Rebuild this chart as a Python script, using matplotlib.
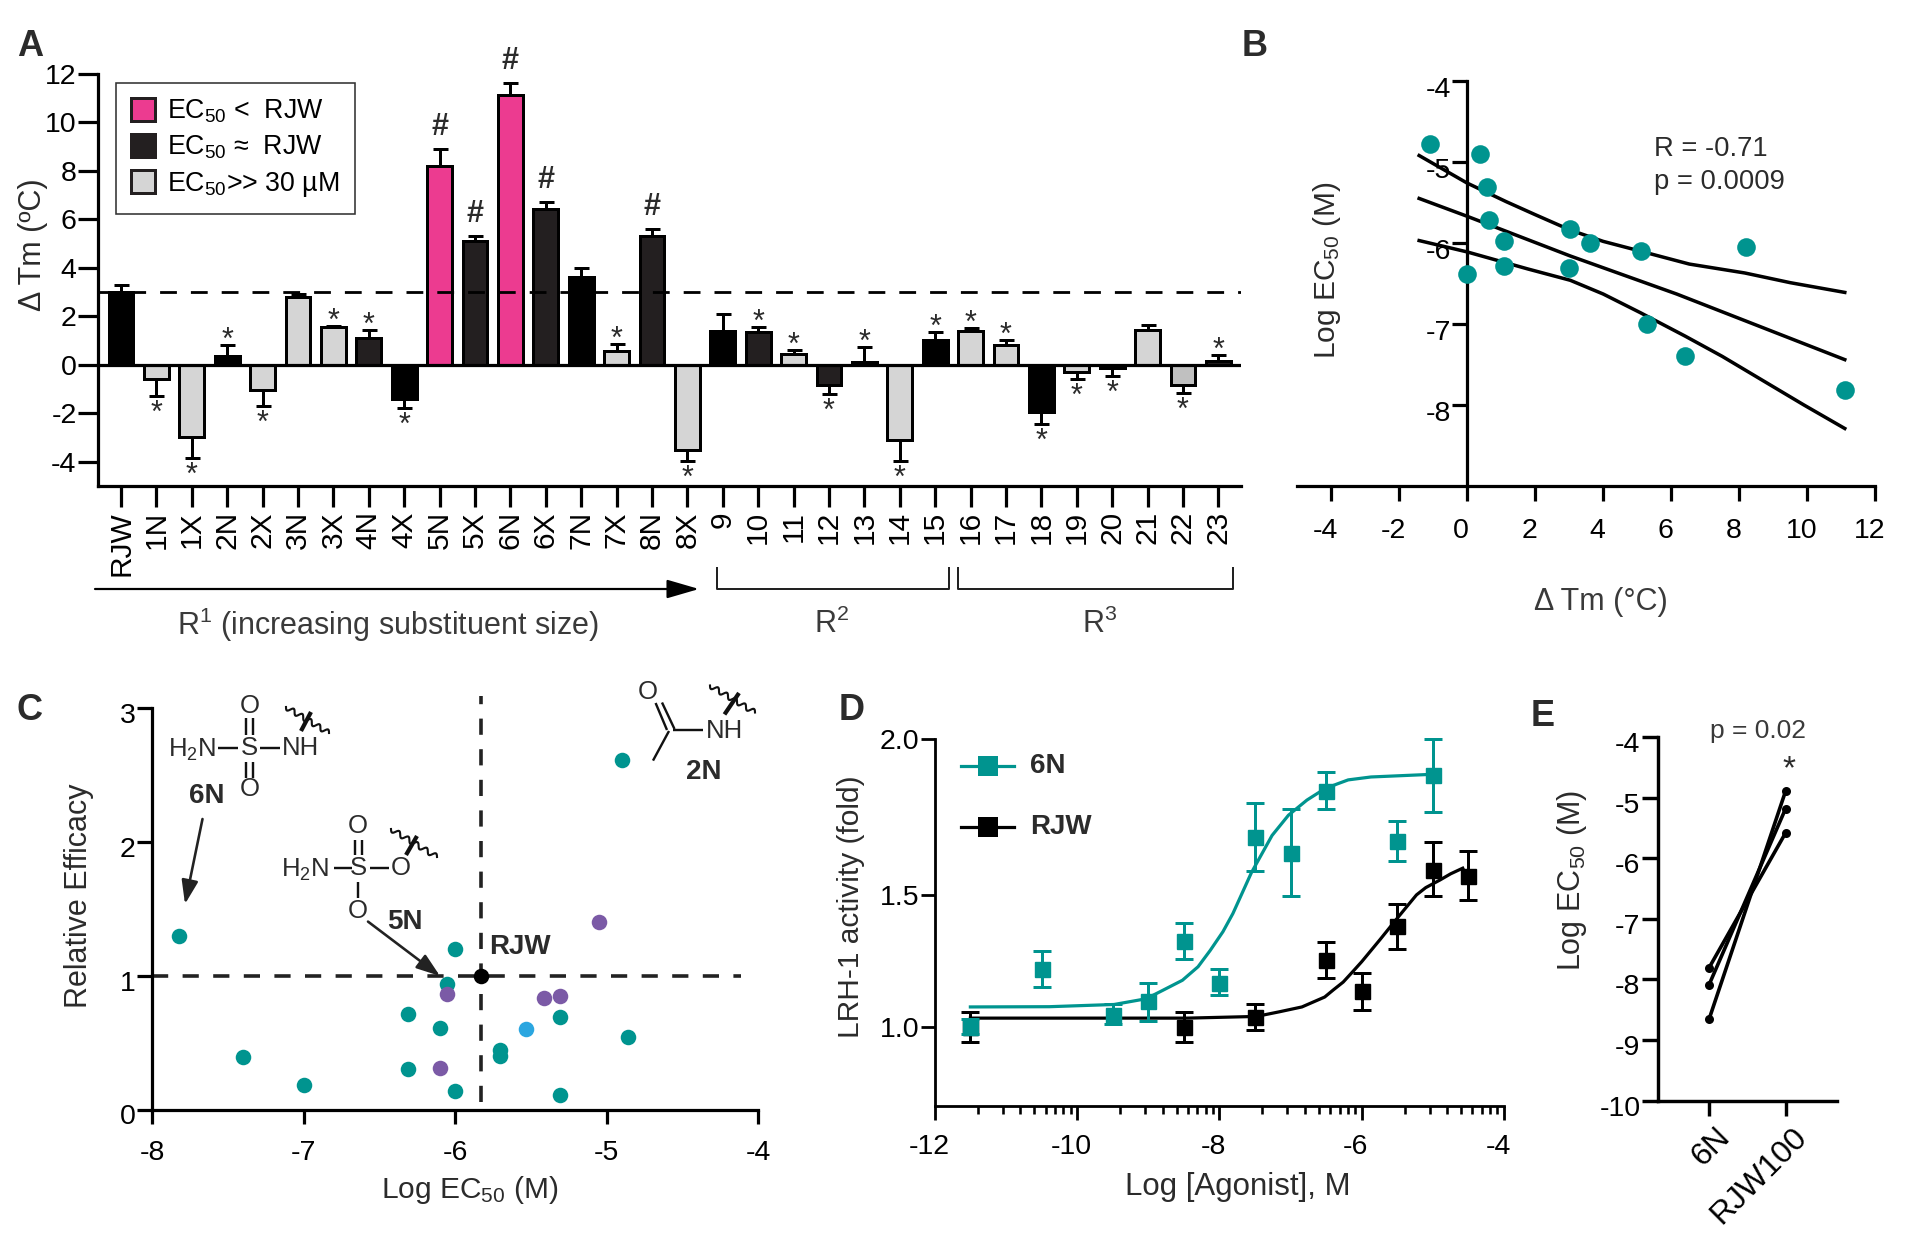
import numpy as np
import matplotlib
matplotlib.use("Agg")
import matplotlib.pyplot as plt
from matplotlib.patches import Patch
from matplotlib.ticker import NullLocator
from matplotlib.transforms import ScaledTranslation

plt.rcParams["font.family"] = ["Liberation Sans", "DejaVu Sans"]
plt.rcParams["mathtext.fontset"] = "custom"
plt.rcParams["mathtext.rm"] = "Liberation Sans"
plt.rcParams["mathtext.default"] = "regular"
plt.rcParams["axes.unicode_minus"] = False

W, H = 1919, 1250
PT = 0.72  # one pixel in points at dpi 100
TEAL = "#00948f"
PINK = "#ec3b90"
DARK = "#231f20"
BLACK = "#000000"
GREY = "#d5d5d5"
TXT = "#2b2b2b"

# panel A
a_names = ["RJW", "1N", "1X", "2N", "2X", "3N", "3X", "4N", "4X", "5N", "5X", "6N", "6X", "7N", "7X", "8N", "8X",
           "9", "10", "11", "12", "13", "14", "15", "16", "17", "18", "19", "20", "21", "22", "23"]
a_vals = [3.0, -0.6, -3.0, 0.35, -1.05, 2.8, 1.55, 1.1, -1.4, 8.2, 5.1, 11.1, 6.4, 3.6, 0.55, 5.3, -3.5,
          1.4, 1.35, 0.45, -0.85, 0.1, -3.1, 1.0, 1.4, 0.8, -1.95, -0.3, -0.15, 1.45, -0.85, 0.15]
a_ends = [3.3, -1.3, -3.85, 0.8, -1.7, 2.9, 1.6, 1.45, -1.8, 8.9, 5.3, 11.6, 6.7, 4.0, 0.85, 5.6, -3.95,
          2.1, 1.55, 0.6, -1.2, 0.75, -3.95, 1.35, 1.5, 1.0, -2.45, -0.6, -0.45, 1.65, -1.15, 0.4]
a_colors = [BLACK, GREY, GREY, BLACK, GREY, GREY, GREY, DARK, BLACK, PINK, DARK, PINK, DARK, BLACK, GREY, DARK, GREY,
            BLACK, DARK, GREY, DARK, GREY, GREY, BLACK, GREY, GREY, BLACK, GREY, GREY, GREY, "#c0c0c0", DARK]
a_stars = ["1N", "1X", "2N", "2X", "3X", "4N", "4X", "7X", "8X", "10", "11", "12", "13", "14", "15", "16", "17",
           "18", "19", "20", "22", "23"]
a_hash = ["5N", "5X", "6N", "6X", "8N"]

# panel B
b_tm = [-1.08, 0.38, 0.59, 0.63, 1.09, 1.09, 0.0, 3.03, 3.0, 3.6, 5.1, 8.2, 5.3, 6.4, 11.1]
b_ec50 = [-4.78, -4.90, -5.31, -5.71, -5.98, -6.29, -6.38, -5.83, -6.31, -6.0, -6.10, -6.05, -7.0, -7.40, -7.82]
b_upper_x = [-1.41, 0.0, 1.15, 2.0, 3.03, 4.0, 5.09, 6.53, 8.16, 9.5, 11.1]
b_upper_y = [-4.92, -5.26, -5.49, -5.65, -5.84, -5.98, -6.10, -6.26, -6.37, -6.49, -6.61]
b_fit_x = [-1.41, 0.0, 3.03, 6.16, 11.1]
b_fit_y = [-5.45, -5.67, -6.16, -6.63, -7.44]
b_lower_x = [-1.41, 0.0, 1.78, 3.03, 4.0, 5.09, 6.41, 7.5, 8.66, 9.9, 11.1]
b_lower_y = [-5.97, -6.11, -6.32, -6.46, -6.63, -6.86, -7.15, -7.40, -7.69, -8.0, -8.29]

# panel C
c_teal_x = [-7.82, -4.90, -6.0, -6.05, -6.31, -6.10, -5.31, -4.86, -5.70, -5.70, -7.40, -6.31, -7.0, -6.0, -5.31]
c_teal_y = [1.30, 2.61, 1.20, 0.94, 0.71, 0.61, 0.69, 0.54, 0.445, 0.40, 0.39, 0.30, 0.18, 0.14, 0.11]
c_purple_x = [-5.05, -6.05, -5.41, -5.31, -6.10]
c_purple_y = [1.40, 0.865, 0.83, 0.85, 0.31]
c_blue_x = [-5.53]
c_blue_y = [0.60]
c_rjw_x = [-5.83]
c_rjw_y = [1.0]

# panel D
d_6n_x = [-11.5, -10.5, -9.5, -9.0, -8.5, -8.0, -7.5, -7.0, -6.5, -5.5, -5.0]
d_6n_y = [1.0, 1.231, 1.051, 1.107, 1.335, 1.178, 1.693, 1.642, 1.841, 1.680, 1.891]
d_6n_hi = [1.031, 1.298, 1.092, 1.178, 1.400, 1.231, 1.803, 1.784, 1.898, 1.747, 2.0]
d_6n_lo = [0.968, 1.161, 1.012, 1.023, 1.270, 1.129, 1.580, 1.495, 1.784, 1.614, 1.774]
d_rjw_x = [-11.5, -8.5, -7.5, -6.5, -6.0, -5.5, -5.0, -4.5]
d_rjw_y = [1.0, 1.0, 1.042, 1.266, 1.144, 1.389, 1.585, 1.566]
d_rjw_hi = [1.062, 1.062, 1.092, 1.332, 1.217, 1.468, 1.677, 1.648]
d_rjw_lo = [0.936, 0.936, 0.984, 1.195, 1.069, 1.307, 1.496, 1.481]
d_fit6n_x = [-11.5, -10.39, -9.48, -9.03, -8.8, -8.52, -8.3, -8.13, -7.95, -7.81, -7.55, -7.26, -7.03, -6.77,
             -6.53, -6.35, -6.19, -5.87, -5.03]
d_fit6n_y = [1.082, 1.083, 1.092, 1.115, 1.148, 1.188, 1.24, 1.301, 1.37, 1.435, 1.576, 1.699, 1.764, 1.812,
             1.846, 1.862, 1.875, 1.884, 1.892]
d_fitrjw_x = [-11.5, -8.45, -7.48, -7.16, -6.84, -6.52, -6.4, -6.26, -6.13, -6.0, -5.74, -5.53, -5.38, -5.23,
              -5.1, -4.90, -4.75, -4.58]
d_fitrjw_y = [1.036, 1.036, 1.043, 1.062, 1.082, 1.122, 1.15, 1.181, 1.22, 1.259, 1.342, 1.409, 1.455, 1.500,
              1.525, 1.551, 1.572, 1.591]

# panel E
e_names = ["6N", "RJW100"]
e_6n = [-7.81, -8.09, -8.66]
e_rjw = [-5.58, -5.18, -4.89]

fig = plt.figure(figsize=(W / 100, H / 100), dpi=100)


def px_axes(left, top, right, bottom):
    ax = fig.add_axes([left / W, 1 - bottom / H, (right - left) / W, (bottom - top) / H])
    ax.patch.set_alpha(0)
    ax.spines["top"].set_visible(False)
    ax.spines["right"].set_visible(False)
    return ax


def shift_labels(labels, dx, dy):
    for lab in labels:
        lab.set_transform(lab.get_transform() + ScaledTranslation(dx * PT / 72, dy * PT / 72, fig.dpi_scale_trans))


def style(ax, lw=3.2, xlen=15, ylen=15, size=20.5):
    for s in ax.spines.values():
        s.set_linewidth(lw * PT)
    ax.tick_params(axis="x", length=xlen * PT, width=lw * PT, labelsize=size, pad=3)
    ax.tick_params(axis="y", length=ylen * PT, width=lw * PT, labelsize=size, pad=1)


# A
ax = px_axes(98, 73.6, 1241, 486)
style(ax, xlen=21, ylen=20)
xs = np.arange(len(a_names))
vals = np.array(a_vals)
ends = np.array(a_ends)
lower = np.where(vals < 0, vals - ends, 0)
upper = np.where(vals > 0, ends - vals, 0)
ax.errorbar(xs, vals, yerr=[lower, upper], fmt="none", ecolor="black", elinewidth=3 * PT, capsize=5.4,
            capthick=3 * PT, zorder=2)
ax.bar(xs, vals, width=0.7, color=a_colors, edgecolor="black", linewidth=3 * PT, zorder=3)
ax.axhline(0, color="black", lw=3.2 * PT, zorder=4)
ax.axhline(3, color="black", lw=2.8 * PT, dashes=(6, 5), zorder=5)
for name, v, e in zip(a_names, a_vals, a_ends):
    i = a_names.index(name)
    sign = 1 if v > 0 else -1
    if name in a_stars:
        ax.annotate("*", (i, e), xytext=(0, 11 * PT * sign - 5), textcoords="offset points", ha="center",
                    va="center", fontsize=22, color=TXT, zorder=6)
    if name in a_hash:
        ax.annotate("#", (i, e), xytext=(0, 22 * PT), textcoords="offset points", ha="center", va="center",
                    fontsize=22, fontweight="bold", color=TXT, zorder=6)
ax.set_xlim(-0.65, 31.64)
ax.set_ylim(-5, 12)
ax.set_xticks(xs)
ax.set_xticklabels(a_names, rotation=90, ha="center", va="top", fontsize=21.5)
ax.set_yticks(np.arange(-4, 13, 2))
leg = ax.legend(handles=[Patch(facecolor=PINK, edgecolor=DARK, linewidth=3 * PT, label="EC$_{50}$ <  RJW"),
                         Patch(facecolor=DARK, edgecolor=DARK, linewidth=3 * PT, label="EC$_{50}$ ≈  RJW"),
                         Patch(facecolor=GREY, edgecolor=DARK, linewidth=3 * PT, label="EC$_{50}$>> 30 µM")],
                loc="upper left", bbox_to_anchor=(116 / W, 1 - 83 / H), bbox_transform=fig.transFigure,
                fontsize=19.3, fancybox=False, framealpha=1, edgecolor="#333333", handlelength=0.92, handleheight=0.92,
                handletextpad=0.45, labelspacing=0.32, borderpad=0.55, borderaxespad=0)
leg.get_frame().set_linewidth(1.6 * PT)
leg.set_zorder(7)

# B
ax = px_axes(1297, 81, 1875.4, 486)
style(ax)
ax.spines["left"].set_position(("data", 0))
ax.plot(b_upper_x, b_upper_y, color="black", lw=3.5 * PT, zorder=3)
ax.plot(b_fit_x, b_fit_y, color="black", lw=3.5 * PT, zorder=3)
ax.plot(b_lower_x, b_lower_y, color="black", lw=3.5 * PT, zorder=3)
ax.scatter(b_tm, b_ec50, s=180, color=TEAL, linewidths=0, zorder=4, clip_on=False)
ax.set_xlim(-5, 12)
ax.set_ylim(-9, -4)
ax.set_xticks(np.arange(-4, 13, 2))
ax.set_yticks([-8, -7, -6, -5, -4])
ax.tick_params(axis="x", pad=12)
shift_labels(ax.get_xticklabels(), -6, 0)
shift_labels(ax.get_yticklabels(), 0, -6)

# C
ax = px_axes(152, 708, 758, 1109.5)
style(ax, xlen=14, ylen=15)
ax.plot([-8, -4.11], [1, 1], color="#222222", lw=3.6 * PT, dashes=(4.5, 4), zorder=2, clip_on=False)
ax.plot([-5.83, -5.83], [0.055, 3.09], color="#222222", lw=3.6 * PT, dashes=(4.5, 4), zorder=2, clip_on=False)
ax.scatter(c_teal_x, c_teal_y, s=125, color=TEAL, linewidths=0, zorder=3)
ax.scatter(c_purple_x, c_purple_y, s=125, color="#7b5aa6", linewidths=0, zorder=4)
ax.scatter(c_blue_x, c_blue_y, s=125, color="#2ba6e0", linewidths=0, zorder=4)
ax.scatter(c_rjw_x, c_rjw_y, s=125, color="black", linewidths=0, zorder=5)
ax.set_xlim(-8, -4)
ax.set_ylim(0, 3)
ax.set_xticks([-8, -7, -6, -5, -4])
ax.set_yticks([0, 1, 2, 3])
ax.tick_params(axis="x", pad=12)
shift_labels(ax.get_yticklabels(), 0, -5)

# D
ax = px_axes(934.8, 738.8, 1504, 1105.8)
style(ax, lw=2.8, xlen=14, ylen=14)
# the printed y axis is not evenly spaced: 2.0-1.5 is wider than 1.5-1.0
ax.set_yscale("function", functions=(lambda v: np.power(v, 1.5), lambda f: np.power(f, 2 / 3)))
ax.plot(d_fitrjw_x, d_fitrjw_y, color="black", lw=3.2 * PT, zorder=2)
ax.plot(d_fit6n_x, d_fit6n_y, color=TEAL, lw=3.2 * PT, zorder=4)
for dx, dy, hi, lo, col, z in [(d_rjw_x, d_rjw_y, d_rjw_hi, d_rjw_lo, "black", 3),
                               (d_6n_x, d_6n_y, d_6n_hi, d_6n_lo, TEAL, 5)]:
    dy = np.array(dy)
    ax.errorbar(dx, dy, yerr=[dy - np.array(lo), np.array(hi) - dy], fmt="s", color=col, ms=15 * PT,
                elinewidth=3 * PT, capsize=6.5, capthick=3 * PT, zorder=z, clip_on=False)
ax.set_xlim(-12, -4)
ax.set_ylim(0.628, 2.0)
ax.set_xticks([-12, -10, -8, -6, -4])
ax.set_xticks([s + 2 * np.log10(k) for s in [-12, -10, -8, -6] for k in range(2, 10)], minor=True)
ax.tick_params(axis="x", which="minor", length=8 * PT, width=2.6 * PT)
ax.set_yticks([1.0, 1.5, 2.0])
ax.set_yticklabels(["1.0", "1.5", "2.0"])
ax.yaxis.set_minor_locator(NullLocator())
ax.tick_params(axis="x", pad=10)
shift_labels(ax.get_xticklabels(), -6, 0)

# E
ax = px_axes(1658, 737, 1837, 1100.7)
style(ax, lw=3.4, xlen=15, ylen=16)
for a, b in zip(e_6n, e_rjw):
    ax.plot([0, 1], [a, b], color="black", lw=3.6 * PT, marker="o", ms=6.5, mew=0)
ax.set_xlim(-0.665, 1.67)
ax.set_ylim(-10, -4)
ax.set_xticks([0, 1])
ax.set_xticklabels(e_names, rotation=45, ha="right", va="top", rotation_mode="anchor", fontsize=23)
ax.set_yticks(np.arange(-10, -3))
shift_labels(ax.get_yticklabels(), 0, -5)
shift_labels(ax.get_xticklabels(), 6, -2)

# overlay in figure pixels for labels, brackets and the chemical sketches
ov = fig.add_axes([0, 0, 1, 1], zorder=10)
ov.set_xlim(0, W)
ov.set_ylim(H, 0)
ov.axis("off")


def label(x, y, s, size=20, rot=0, bold=False, color=TXT):
    ov.text(x, y, s, fontsize=size, rotation=rot, ha="center", va="center",
            fontweight="bold" if bold else "normal", color=color)


def bond(x0, y0, x1, y1, lw=2.4, color="#111111"):
    ov.plot([x0, x1], [y0, y1], color=color, lw=lw * PT, solid_capstyle="butt")


def squiggle(x0, y0, x1, y1, cut):
    t = np.linspace(0, 1, 60)
    nx, ny = -(y1 - y0), x1 - x0
    n = np.hypot(nx, ny)
    wob = 2.6 * np.sin(t * 2 * np.pi * 5)
    ov.plot(x0 + (x1 - x0) * t + nx / n * wob, y0 + (y1 - y0) * t + ny / n * wob, color="#111111", lw=2.1 * PT)
    ov.plot([cut[0], cut[2]], [cut[1], cut[3]], color="#111111", lw=4.2 * PT, solid_capstyle="butt")


for x, y, s in [(30, 47, "A"), (1255, 47, "B"), (30, 711, "C"), (852, 711, "D"), (1543, 716, "E")]:
    label(x, y, s, size=26, bold=True)

# A labels and below the axis
label(33, 245, "Δ Tm (ºC)", size=22, rot=90)
ov.annotate("", xy=(699, 589), xytext=(95, 589),
            arrowprops=dict(arrowstyle="-|>,head_length=1.1,head_width=0.32", color="black", lw=2.2 * PT,
                            mutation_scale=18, shrinkA=0, shrinkB=0))
label(388, 625, "R$^{1}$ (increasing substituent size)", size=22, color="#3a3a3a")
for x0, x1, s, xt in [(717, 948.5, "R$^{2}$", 832), (958, 1233, "R$^{3}$", 1100)]:
    ov.plot([x0, x0, x1, x1], [568, 589, 589, 568], color="#222222", lw=2 * PT)
    label(xt, 624, s, size=22, color="#3a3a3a")

# B texts
ov.text(1654, 149, "R = -0.71", fontsize=19.7, ha="left", va="center", color=TXT)
ov.text(1654, 182, "p = 0.0009", fontsize=19.7, ha="left", va="center", color=TXT)
label(1601, 602, "Δ Tm (°C)", size=22, color="#3a3a3a")
label(1327, 270, "Log EC$_{50}$ (M)", size=21.5, rot=90)

# C texts and structures
label(470, 1190, "Log EC$_{50}$ (M)", size=21.5)
label(79, 896, "Relative Efficacy", size=22, rot=90)
label(520, 947, "RJW", size=20, bold=True)
# 6N
label(249.5, 706, "O", 18.5)
label(249.5, 748, "S", 18.5)
label(249.5, 789, "O", 18.5)
label(192, 750, "H$_2$N", 18.5)
label(301, 748, "NH", 18.5)
bond(218, 748, 238, 748)
bond(260, 748, 280, 748)
for x in [246, 253]:
    bond(x, 718, x, 735)
    bond(x, 762, x, 778)
squiggle(286, 707, 329, 733, (311, 712, 301, 731))
label(207, 796, "6N", 20, bold=True)
ov.annotate("", xy=(185, 904), xytext=(202.5, 819),
            arrowprops=dict(arrowstyle="-|>,head_length=0.8,head_width=0.28", color="#222222", lw=2.6 * PT,
                            mutation_scale=18, shrinkA=0, shrinkB=0))
# 5N
label(358, 826, "O", 18.5)
label(358, 868, "S", 18.5)
label(401, 868, "O", 18.5)
label(358, 910.5, "O", 18.5)
label(305, 870, "H$_2$N", 18.5)
bond(334, 868, 352, 868)
bond(370, 868, 389, 868)
for x in [354.6, 361.7]:
    bond(x, 840, x, 855)
bond(358, 881.6, 358, 897.5)
squiggle(391, 829, 437, 857, (417, 836, 406, 855))
label(404.6, 921.6, "5N", 20, bold=True)
ov.annotate("", xy=(440, 976), xytext=(368, 921.6),
            arrowprops=dict(arrowstyle="-|>,head_length=0.8,head_width=0.28", color="#222222", lw=2.6 * PT,
                            mutation_scale=18, shrinkA=0, shrinkB=0))
# 2N
label(648, 692, "O", 18.5)
label(724.5, 731, "NH", 18.5)
bond(655.6, 703, 667, 730)
bond(662, 702.5, 674.5, 729)
bond(673, 730, 703, 730)
bond(669, 731, 653, 760.6)
squiggle(710, 685.5, 755, 712.5, (739, 693, 724.5, 714.4))
label(704, 772, "2N", 20, bold=True)

# D texts and key
label(1238, 1187, "Log [Agonist], M", size=22.5)
label(851, 907, "LRH-1 activity (fold)", size=21.5, rot=90)
for yk, col, s in [(766, TEAL, "6N"), (826.5, "black", "RJW")]:
    ov.plot([961, 1014], [yk, yk], color=col, lw=3.2 * PT)
    ov.plot([987.5], [yk], color=col, marker="s", ms=20 * PT, mew=0)
    ov.text(1030, yk, s, fontsize=20, fontweight="bold", ha="left", va="center", color=TXT)

# E texts
label(1572, 880, "Log EC$_{50}$ (M)", size=22, rot=90)
label(1758, 731, "p = 0.02", size=19, color="#3a3a3a")
label(1789, 770, "*", size=24)

fig.savefig("out.png", dpi=100)
